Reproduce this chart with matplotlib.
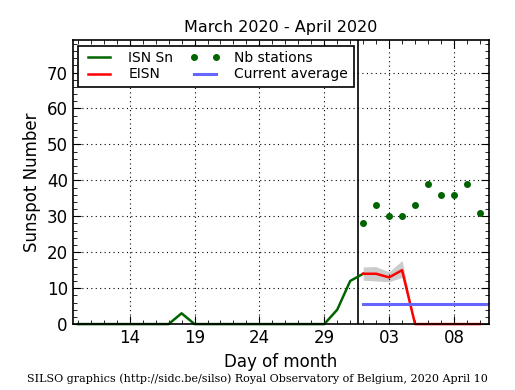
import matplotlib
matplotlib.use("Agg")
from matplotlib import pyplot as plt
from matplotlib.ticker import MultipleLocator

# days: March d -> d, April d -> 31 + d
isn_days = list(range(10, 33))
isn_vals = [0, 0, 0, 0, 0, 0, 0, 0, 3, 0, 0, 0, 0, 0, 0, 0, 0, 0, 0, 0, 4, 12, 14]

eisn_days = list(range(32, 42))
eisn_vals = [14, 14, 13, 15, 0, 0, 0, 0, 0, 0]
eisn_low = [12.2, 12.0, 11.8, 13.0, 0, 0, 0, 0, 0, 0]
eisn_high = [15.9, 16.0, 14.5, 17.7, 0, 0, 0, 0, 0, 0]

nb_days = list(range(32, 42))
nb_vals = [28, 33, 30, 30, 33, 39, 36, 36, 39, 31]

avg_days = [32, 42]
avg_vals = [5.5, 5.5]

tick_pos = [14, 19, 24, 29, 34, 39]
tick_labels = ["14", "19", "24", "29", "03", "08"]

fig = plt.figure(figsize=(5.15, 3.9), dpi=100)
ax = fig.add_axes([0.141, 0.169, 0.8085, 0.728])

ax.fill_between(eisn_days, eisn_low, eisn_high, color="#cccccc", lw=0, zorder=1.5)
ax.plot(isn_days, isn_vals, color="#006400", lw=1.8, label="ISN Sn", clip_on=False, zorder=3)
ax.plot(eisn_days, eisn_vals, color="red", lw=1.8, label="EISN", clip_on=False, zorder=3)
ax.plot(nb_days, nb_vals, "o", color="#006400", ms=4, label="Nb stations", zorder=3)
ax.plot(avg_days, avg_vals, color="#6666ff", lw=2.2, label="Current average", zorder=3)
ax.axvline(31.6, color="black", lw=1.2)

ax.set_xlim(9.6, 41.7)
ax.set_ylim(0, 79)
ax.set_xticks(tick_pos)
ax.set_xticklabels(tick_labels)
ax.xaxis.set_minor_locator(MultipleLocator(1))
ax.yaxis.set_major_locator(MultipleLocator(10))
ax.yaxis.set_minor_locator(MultipleLocator(2))
ax.tick_params(which="both", direction="in", top=True, right=True, labelsize=12)
ax.tick_params(which="major", length=6)
ax.tick_params(which="minor", length=3)
ax.grid(True, which="major", color="black", linestyle=(0, (1, 3)), lw=0.8)
for s in ax.spines.values():
    s.set_linewidth(1.2)
    s.set_zorder(4)

ax.set_title("March 2020 - April 2020", fontsize=11.5)
ax.set_xlabel("Day of month", fontsize=12)
ax.set_ylabel("Sunspot Number", fontsize=12)

leg = ax.legend(loc="upper left", ncol=2, numpoints=2, fontsize=10, fancybox=False,
                edgecolor="black", framealpha=1, borderaxespad=0.4,
                handlelength=2.2, handletextpad=1.0, columnspacing=1.2, labelspacing=0.15)
leg.get_frame().set_linewidth(1.2)
leg.set_zorder(5)

fig.text(0.5, 0.02, "SILSO graphics (http://sidc.be/silso) Royal Observatory of Belgium, 2020 April 10",
         ha="center", family="DejaVu Serif", fontsize=8)

fig.savefig("out.png", dpi=100)
